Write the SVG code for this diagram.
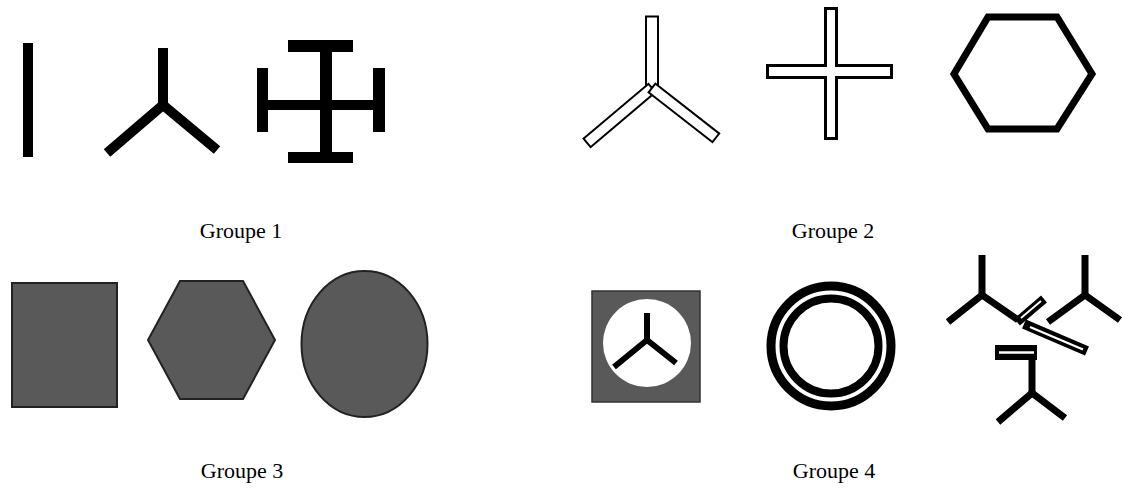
<svg xmlns="http://www.w3.org/2000/svg" width="1123" height="488" viewBox="0 0 1123 488">
<style>
.lbl{font-family:"Liberation Serif","Times New Roman",serif;font-size:22px;fill:#000}
.blk{stroke:#000;fill:none;stroke-linecap:butt}
.hol{fill:#fff;stroke:#000;stroke-width:2}
.gray{fill:#595959;stroke:#222;stroke-width:2}
</style>
<rect width="1123" height="488" fill="#fff"/>
<g id="groupe1">
  <rect x="23" y="43" width="10" height="114" fill="#000"/>
  <g class="blk" stroke-width="10">
    <polyline points="107,153 163,105 217,150"/>
    <line x1="163" y1="48" x2="163" y2="105"/>
  </g>
  <g fill="#000">
    <rect x="320" y="42" width="12" height="121"/>
    <rect x="288" y="40" width="65" height="12"/>
    <rect x="288" y="152" width="65" height="11"/>
    <rect x="267" y="100" width="113" height="10"/>
    <rect x="257" y="68" width="11" height="64"/>
    <rect x="373" y="68" width="12" height="64"/>
  </g>
  <text class="lbl" x="241" y="238" text-anchor="middle">Groupe 1</text>
</g>
<g id="groupe2">
  <rect class="hol" x="646" y="16.5" width="12" height="71"/>
  <rect class="hol" x="0" y="-5.5" width="85" height="11" transform="translate(652,88) rotate(139.8)"/>
  <rect class="hol" x="0" y="-5.5" width="81" height="11" transform="translate(652,88) rotate(38)"/>
  <rect x="824" y="7" width="14" height="133" fill="#000"/>
  <rect x="766" y="64" width="127" height="15" fill="#000"/>
  <rect x="827" y="10" width="8" height="127" fill="#fff"/>
  <rect x="769" y="67" width="121" height="9" fill="#fff"/>
  <polygon points="988,17 1057,17 1092,74 1057,129 988,129 954,74" fill="none" stroke="#000" stroke-width="7"/>
  <text class="lbl" x="833" y="238" text-anchor="middle">Groupe 2</text>
</g>
<g id="groupe3">
  <rect class="gray" x="12" y="283" width="105" height="124"/>
  <polygon class="gray" points="180,281 243,281 275,340 243,399 180,399 148,340"/>
  <ellipse class="gray" cx="364.5" cy="344" rx="63" ry="73"/>
  <text class="lbl" x="242" y="478" text-anchor="middle">Groupe 3</text>
</g>
<g id="groupe4">
  <rect x="592" y="291" width="108" height="111" fill="#595959" stroke="#333" stroke-width="1.5"/>
  <circle cx="647" cy="343" r="44" fill="#fff"/>
  <g class="blk" stroke-width="6">
    <line x1="647" y1="313" x2="647" y2="340"/>
    <polyline points="614,367 647,340 676,363"/>
  </g>
  <circle cx="831" cy="346" r="60" fill="none" stroke="#000" stroke-width="9"/>
  <circle cx="831" cy="346" r="47.5" fill="none" stroke="#000" stroke-width="8"/>
  <g class="blk" stroke-width="7">
    <line x1="982" y1="255" x2="982" y2="295"/>
    <polyline points="948,322 982,295 1018,320"/>
    <line x1="1085" y1="255" x2="1085" y2="295"/>
    <polyline points="1048,322 1085,295 1120,320"/>
    <line x1="1032" y1="356" x2="1032" y2="393"/>
    <polyline points="998,422 1032,393 1065,418"/>
    <line x1="1017" y1="322" x2="1044" y2="299" stroke-width="9"/>
    <line x1="1024" y1="324" x2="1087" y2="351" stroke-width="10"/>
  </g>
  <g stroke="#fff" fill="none">
    <line x1="1021" y1="318" x2="1041" y2="301" stroke-width="1.8"/>
    <line x1="1030" y1="327" x2="1083" y2="349.5" stroke-width="2.2"/>
  </g>
  <rect x="995" y="345" width="42" height="15" fill="#000"/>
  <line x1="999" y1="352.5" x2="1034" y2="352.5" stroke="#fff" stroke-width="2.5"/>
  <text class="lbl" x="834" y="478" text-anchor="middle">Groupe 4</text>
</g>
</svg>
